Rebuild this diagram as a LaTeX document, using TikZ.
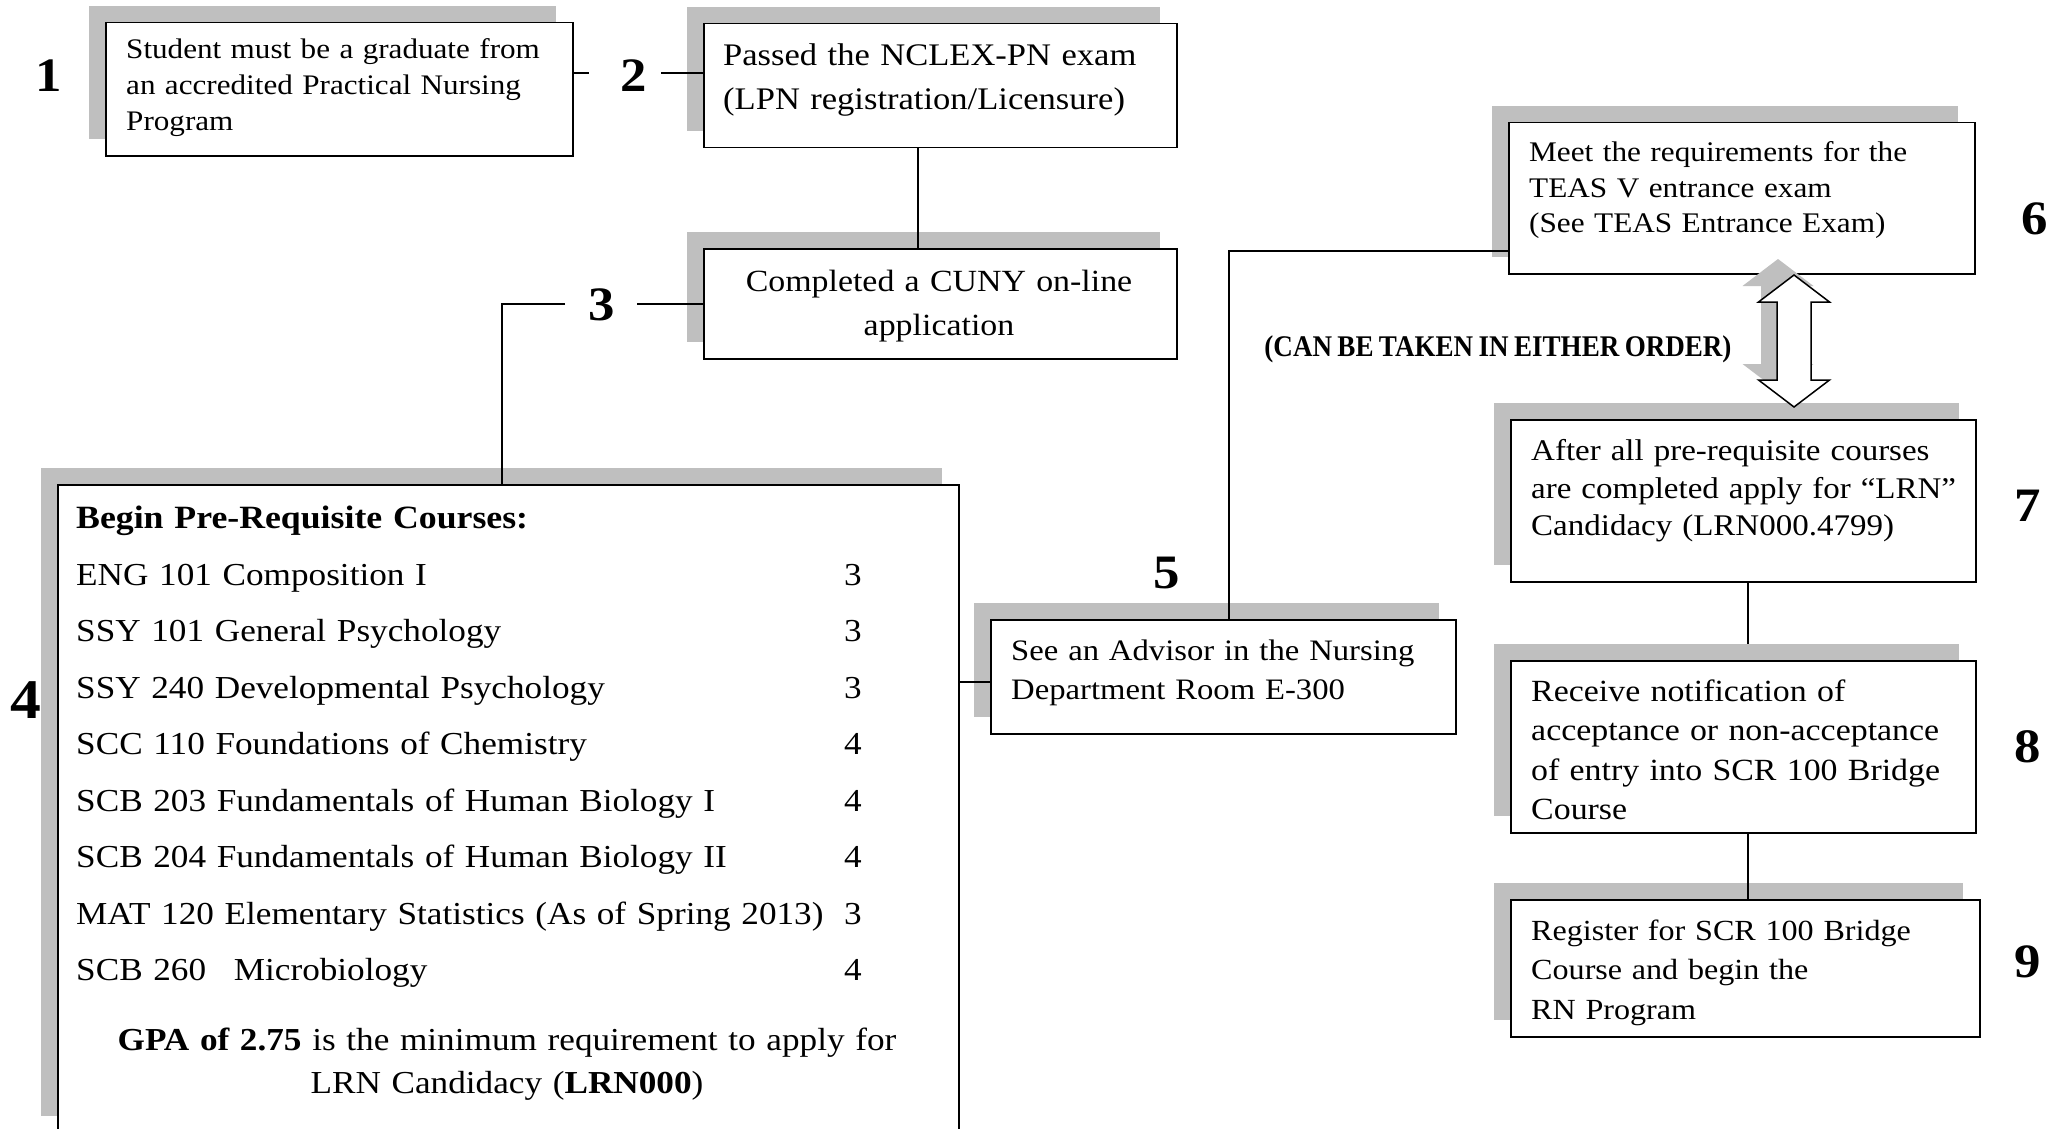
\documentclass[tikz,border=0pt]{standalone}
\usepackage{fontspec}
\setmainfont{Liberation Serif}[FakeStretch=1.10,WordSpace=0.8]
\definecolor{shadowc}{RGB}{191,191,191}
\newcommand\mkbox[5]{%
  \fill[shadowc] (#2-16,#3-16) rectangle (#4-16,#5-16);
  \node[boxn, minimum width={#4-#2}, minimum height={#5-#3}] (#1) at (#2,#3) {};
}
\newcommand\fs[2]{\fontsize{#1}{#2}\selectfont}
\tikzset{
  boxn/.style={draw, line width=1.5pt, fill=white, inner sep=0pt, anchor=north west},
  num/.style={font=\fs{48}{48}\bfseries, inner sep=0pt},
  txt/.style={inner sep=0pt, anchor=base west, align=left, text width=#1},
  txt/.default=470pt,
  ctxt/.style={inner sep=0pt, anchor=base, align=center, text width=#1},
  conn/.style={line width=1.3pt},
}
\begin{document}
\begin{tikzpicture}[x=1pt,y=-1pt]
\useasboundingbox (0,0) rectangle (2061,1129);
\clip (0,0) rectangle (2061,1129);
\fill[white] (0,0) rectangle (2061,1129);

% boxes with shadows
\mkbox{b1}{105}{22}{572}{155}
\mkbox{b2}{703}{23}{1176}{147}
\mkbox{b3}{703}{248}{1176}{358}
\mkbox{b4}{57}{484}{958}{1132}
\mkbox{b5}{990}{619}{1455}{733}
\mkbox{b6}{1508}{122}{1974}{273}
\mkbox{b7}{1510}{419}{1975}{581}
\mkbox{b8}{1510}{660}{1975}{832}
\mkbox{b9}{1510}{899}{1979}{1036}

% texts
\node[txt, font=\fs{28.3}{36}] (t1) at (126,58.3)
  {Student must be a graduate from\\an accredited Practical Nursing\\Program};
\node[txt, font=\fs{31.4}{44}] (t2) at (723,65.6)
  {Passed the NCLEX-PN exam\\(LPN registration/Licensure)};
\node[ctxt=470pt, font=\fs{30.8}{44}] (t3) at (939,291)
  {Completed a CUNY on-line\\application};
\node[txt=800pt, font=\fs{32.5}{40}\bfseries] (t4h) at (76,528.6)
  {Begin Pre-Requisite Courses:};
\node[txt=800pt, font=\fs{32}{56.5}] (t4c) at (76,585)
  {ENG 101 Composition I\\
   SSY 101 General Psychology\\
   SSY 240 Developmental Psychology\\
   SCC 110 Foundations of Chemistry\\
   SCB 203 Fundamentals of Human Biology I\\
   SCB 204 Fundamentals of Human Biology II\\
   MAT 120 Elementary Statistics (As of Spring 2013)\\
   SCB 260\hspace{17pt} Microbiology};
\node[ctxt=40pt, font=\fs{32}{56.5}] (t4n) at (853,585)
  {3\\3\\3\\4\\4\\4\\3\\4};
\node[ctxt=880pt, font=\fs{32}{43.3}] (t4g) at (507,1050.3)
  {\textbf{GPA of 2.75} is the minimum requirement to apply for\\LRN Candidacy (\textbf{LRN000})};
\node[txt, font=\fs{29.7}{39.4}] (t5) at (1011,660.4)
  {See an Advisor in the Nursing\\Department Room E-300};
\node[txt, font=\fs{28.4}{35.5}] (t6) at (1529,161.8)
  {Meet the requirements for the\\TEAS V entrance exam\\(See TEAS Entrance Exam)};
\node[txt, font=\fs{30}{37.5}] (t7) at (1531,460.9)
  {After all pre-requisite courses\\are completed apply for “LRN”\\Candidacy (LRN000.4799)};
\node[txt, font=\fs{30.8}{39.4}] (t8) at (1531,701.5)
  {Receive notification of\\acceptance or non-acceptance\\of entry into SCR 100 Bridge\\Course};
\node[txt, font=\fs{29.2}{39.4}] (t9) at (1531,940.2)
  {Register for SCR 100 Bridge\\Course and begin the\\RN Program};
\node[inner sep=0pt, font=\fs{30}{32}\bfseries] (note) at (1498,349)
  {\scalebox{0.82}[1]{(CAN BE TAKEN IN EITHER ORDER)}};

% step numbers
\node[num] (n1) at (48.5,75.5) {1};
\node[num] (n2) at (634,76) {2};
\node[num] (n3) at (602,305) {3};
\node[num, font=\fs{56}{56}\bfseries] (n4) at (26,700) {4};
\node[num] (n5) at (1167,573) {5};
\node[num] (n6) at (2035,219) {6};
\node[num] (n7) at (2028,506) {7};
\node[num] (n8) at (2028,747) {8};
\node[num] (n9) at (2028,962) {9};

% connector helper coordinates
\coordinate (c1) at (589,73);
\coordinate (c2) at (661,73);
\coordinate (x23) at (918,0);
\coordinate (c3r) at (637,304);
\coordinate (c3l) at (565,304);
\coordinate (x34) at (502,0);
\coordinate (y45) at (0,682);
\coordinate (x56) at (1229,0);
\coordinate (y56) at (0,251);
\coordinate (x78) at (1748,0);

% connectors
\draw[conn] (b1.east |- c1) -- (c1);
\draw[conn] (c2) -- (b2.west |- c2);
\draw[conn] (b2.south -| x23) -- (b3.north -| x23);
\draw[conn] (c3r) -- (b3.west |- c3r);
\draw[conn] (c3l) -| (b4.north -| x34);
\draw[conn] (b4.east |- y45) -- (b5.west |- y45);
\draw[conn] (b5.north -| x56) |- (b6.west |- y56);
\draw[conn, shorten >=16pt] (b7.south -| x78) -- (b8.north -| x78);
\draw[conn] (b8.south -| x78) -- (b9.north -| x78);

% double arrow (shadow then arrow)
\fill[shadowc, shift={(-16,-16)}]
  (1794,275) -- (1829.5,302) -- (1811,302) -- (1811,380) -- (1829.5,380)
  -- (1794,407) -- (1758.5,380) -- (1777,380) -- (1777,302) -- (1758.5,302) -- cycle;
\draw[line width=1.5pt, fill=white, line join=miter]
  (1794,275) -- (1829.5,302) -- (1811,302) -- (1811,380) -- (1829.5,380)
  -- (1794,407) -- (1758.5,380) -- (1777,380) -- (1777,302) -- (1758.5,302) -- cycle;
\end{tikzpicture}
\end{document}
